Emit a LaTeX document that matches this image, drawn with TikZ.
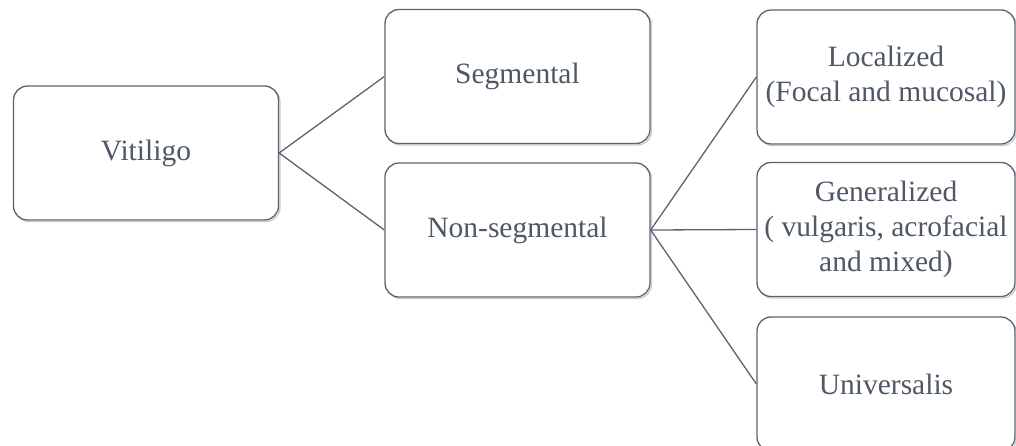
\documentclass[tikz,border=0pt]{standalone}
\usepackage{fontspec}
\setmainfont{Liberation Serif}
\definecolor{boxline}{HTML}{5C6370}
\definecolor{boxtext}{HTML}{4F5866}
\definecolor{shade}{HTML}{C8CBD0}
\begin{document}
\begin{tikzpicture}[x=1pt,y=-1pt,
  box/.style={draw=boxline, line width=1.3pt, rounded corners=14pt, fill=white,
    inner sep=0pt, align=center, text=boxtext,
    font=\fontsize{29.5}{35}\selectfont,
    minimum width=265pt, minimum height=134pt,
    preaction={draw=shade, line width=1.3pt, transform canvas={shift={(1.5pt,-1.5pt)}}}},
  rbox/.style={box, minimum width=258pt},
  conn/.style={draw=boxline, line width=1.3pt}]
\useasboundingbox (0,0) rectangle (1016,445);
\clip (0,0) rectangle (1016,445);
\node[box] (vit) at (146,153) {Vitiligo};
\node[box] (seg) at (517.5,76.5) {Segmental};
\node[box] (nonseg) at (517.5,230) {Non-segmental};
\node[rbox] (loc) at (886,77) {Localized\\(Focal and mucosal)};
\node[rbox] (gen) at (886,229.5) {Generalized\\( vulgaris, acrofacial\\and mixed)};
\node[rbox] (uni) at (886,384) {Universalis};
\draw[conn] (seg.west) -- (vit.east) -- (nonseg.west);
\draw[conn] (nonseg.east) -- (loc.west);
\draw[conn] (nonseg.east) -- (gen.west);
\draw[conn] (nonseg.east) -- (uni.west);
\end{tikzpicture}
\end{document}
